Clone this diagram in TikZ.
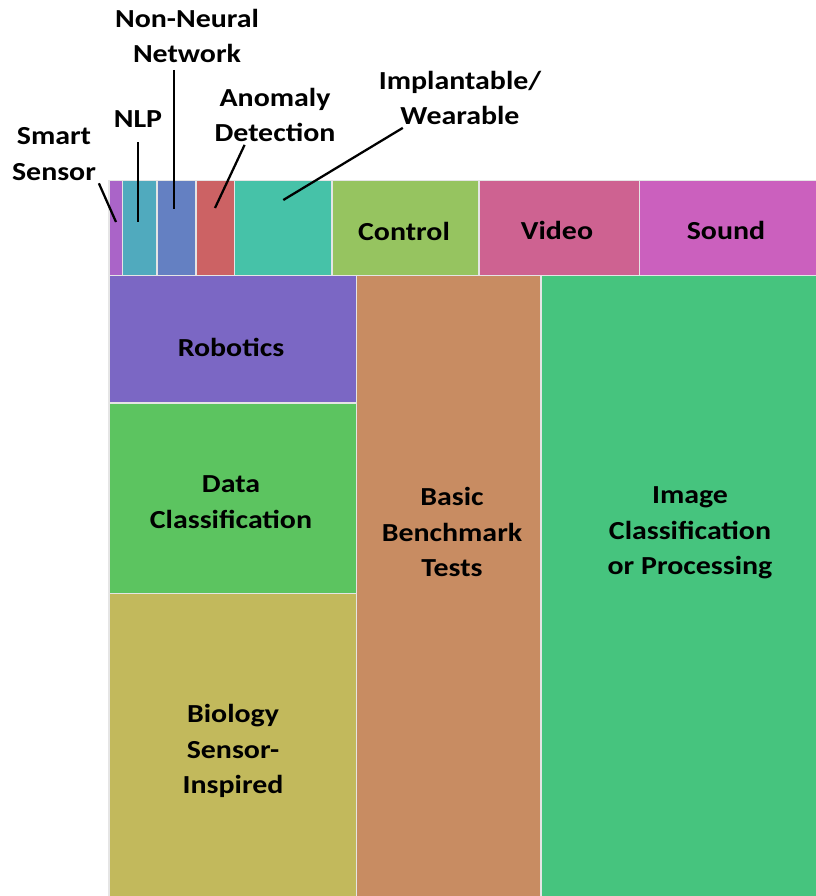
\documentclass[tikz,border=0pt]{standalone}
\usepackage{fontspec}
\setmainfont{Carlito}[FakeStretch=1.15]
\usetikzlibrary{calc}

% cell colours
\definecolor{smartcol}{HTML}{AA64C8}
\definecolor{nlpcol}{HTML}{50AABE}
\definecolor{nnncol}{HTML}{6480C2}
\definecolor{anomcol}{HTML}{CC6264}
\definecolor{implcol}{HTML}{46C2A8}
\definecolor{ctrlcol}{HTML}{96C460}
\definecolor{videocol}{HTML}{CE6291}
\definecolor{soundcol}{HTML}{CB60BE}
\definecolor{robocol}{HTML}{7B67C4}
\definecolor{datacol}{HTML}{5CC460}
\definecolor{biocol}{HTML}{C2B95C}
\definecolor{benchcol}{HTML}{C88C62}
\definecolor{imagecol}{HTML}{46C47E}

\tikzset{
  cell/.style={draw=white!90!black, line width=1.1pt},
  lbl/.style={font=\fontsize{19.5}{26.6}\selectfont\bfseries, align=center, inner sep=2pt},
  leader/.style={black, line width=1.7pt}
}

\begin{document}
\begin{tikzpicture}[x=0.75pt,y=-0.75pt]
  \useasboundingbox (0,0) rectangle (816,896);

  % small cells along the top
  \filldraw[cell, fill=smartcol] (109,180.5) rectangle (122.5,275.5);
  \filldraw[cell, fill=nlpcol] (122.5,180.5) rectangle (157,275.5);
  \filldraw[cell, fill=nnncol] (157,180.5) rectangle (196,275.5);
  \filldraw[cell, fill=anomcol] (196,180.5) rectangle (234.5,275.5);
  \filldraw[cell, fill=implcol] (234.5,180.5) rectangle (332,275.5);
  \filldraw[cell, fill=ctrlcol] (332,180.5) rectangle (479,275.5);
  \filldraw[cell, fill=videocol] (479,180.5) rectangle (639.5,275.5);
  \filldraw[cell, fill=soundcol] (639.5,180.5) rectangle (818,275.5);

  % left column
  \filldraw[cell, fill=robocol] (109,275.5) rectangle (356.5,403);
  \filldraw[cell, fill=datacol] (109,403) rectangle (356.5,593.5);
  \filldraw[cell, fill=biocol] (109,593.5) rectangle (356.5,898);
  % the two big cells
  \filldraw[cell, fill=benchcol] (356.5,275.5) rectangle (541,898);
  \filldraw[cell, fill=imagecol] (541,275.5) rectangle (818,898);

  % labels inside the cells
  \node[lbl] (control) at (404,231) {Control};
  \node[lbl] (video) at (557,230) {Video};
  \node[lbl] (sound) at (726,230) {Sound};
  \node[lbl] (robotics) at (231,347) {Robotics};
  \node[lbl] (data) at (231,502) {Data\\Classification};
  \node[lbl] (biology) at (233,751) {Biology\\Sensor-\\Inspired};
  \node[lbl] (bench) at (452,532) {Basic\\Benchmark\\Tests};
  \node[lbl] (image) at (690,533) {Image\\Classification\\or Processing};

  % labels for the narrow cells, with leader lines
  \node[lbl] (smart) at (54,154) {Smart\\Sensor};
  \node[lbl] (nlp) at (138,119) {NLP};
  \node[lbl] (nnn) at (187,36) {Non-Neural\\Network};
  \node[lbl] (anomaly) at (275,115) {Anomaly\\Detection};
  \node[lbl] (implant) at (460,98) {Implantable/\\Wearable};

  \coordinate (smart-tip) at (116,222);
  \coordinate (nlp-tip) at (138.3,222);
  \coordinate (nnn-tip) at (174.3,209);
  \coordinate (anomaly-tip) at (215,208);
  \coordinate (implant-tip) at (283.3,200);

  \draw[leader] (smart.south east) -- (smart-tip);
  \draw[leader, shorten <=9pt] (nlp.south -| nlp-tip) -- (nlp-tip);
  \draw[leader, shorten <=3pt] (nnn.south -| nnn-tip) -- (nnn-tip);
  \draw[leader] ($(anomaly.south west)!0.26!(anomaly.south east)$) -- (anomaly-tip);
  \draw[leader] ($(implant.south west)!0.16!(implant.south east)$) -- (implant-tip);
\end{tikzpicture}
\end{document}
